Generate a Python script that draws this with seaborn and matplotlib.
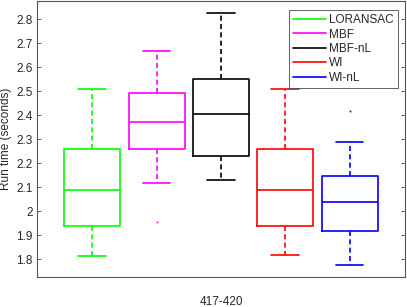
import matplotlib
matplotlib.use("Agg")
import matplotlib.pyplot as plt
from matplotlib.lines import Line2D
import seaborn as sns

# box statistics (seconds)
methods = ["LORANSAC", "MBF", "MBF-nL", "WI", "WI-nL"]
whisker_low = [1.815, 2.118, 2.129, 1.817, 1.778]
q1 = [1.938, 2.260, 2.229, 1.939, 1.918]
median = [2.088, 2.371, 2.405, 2.089, 2.040]
q3 = [2.260, 2.490, 2.551, 2.260, 2.146]
whisker_high = [2.508, 2.668, 2.826, 2.510, 2.287]
outliers = [[], [1.955], [], [], [2.418]]
group_label = "417-420"

colors = sns.color_palette(["#00ff00", "#ff00ff", "#000000", "#ff0000", "#0000ff"])

sns.set_theme(style="white")
plt.rcParams["font.family"] = ["Liberation Sans", "DejaVu Sans"]
ink = "#262626"
lw = 1.2

fig = plt.figure(figsize=(4.07, 3.07), dpi=100)
ax = fig.add_axes([0.0909, 0.0977, 0.9041, 0.899])

stats = []
for i, name in enumerate(methods):
    stats.append(dict(label=name, whislo=whisker_low[i], q1=q1[i], med=median[i],
                      q3=q3[i], whishi=whisker_high[i], fliers=outliers[i]))

positions = list(range(1, len(methods) + 1))
parts = ax.bxp(stats, positions=positions, widths=0.87, capwidths=0.43,
               showfliers=True, patch_artist=False)

for i, c in enumerate(colors):
    parts["boxes"][i].set(color=c, linewidth=lw)
    parts["medians"][i].set(color=c, linewidth=lw)
    for w in parts["whiskers"][2 * i:2 * i + 2]:
        w.set(color=c, linewidth=lw, linestyle=(0, (3, 2)))
    for cp in parts["caps"][2 * i:2 * i + 2]:
        cp.set(color=c, linewidth=lw)
    parts["fliers"][i].set(marker="s", markersize=1.2, markerfacecolor=c,
                           markeredgecolor=c, markeredgewidth=0)

ax.set_xlim(0.14, 5.86)
ax.set_ylim(1.726, 2.875)
ax.set_yticks([1.8, 1.9, 2.0, 2.1, 2.2, 2.3, 2.4, 2.5, 2.6, 2.7, 2.8])
ax.set_yticklabels(["1.8", "1.9", "2", "2.1", "2.2", "2.3", "2.4", "2.5", "2.6", "2.7", "2.8"])
ax.set_xticks([3])
ax.set_xticklabels([group_label])
ax.tick_params(axis="x", length=0, pad=14, labelsize=8.5, colors=ink)
ax.tick_params(axis="y", direction="in", left=True, right=True, length=3, width=0.5,
               pad=3, labelsize=8.5, colors=ink)
ax.set_ylabel("Run time (seconds)", fontsize=8.5, color=ink, labelpad=3)

for s in ax.spines.values():
    s.set_visible(True)
    s.set_color("#555555")
    s.set_linewidth(0.8)

handles = [Line2D([], [], color=c, linewidth=lw) for c in colors]
leg = ax.legend(handles, methods, loc="upper right", bbox_to_anchor=(0.980, 0.967),
                borderaxespad=0, fontsize=8.5, handlelength=2.8, handletextpad=0.2,
                labelspacing=0.2, borderpad=0.35, fancybox=False, framealpha=1)
leg.get_frame().set_edgecolor(ink)
leg.get_frame().set_linewidth(0.5)
for t in leg.get_texts():
    t.set_color(ink)

fig.savefig("out.png", dpi=100)
